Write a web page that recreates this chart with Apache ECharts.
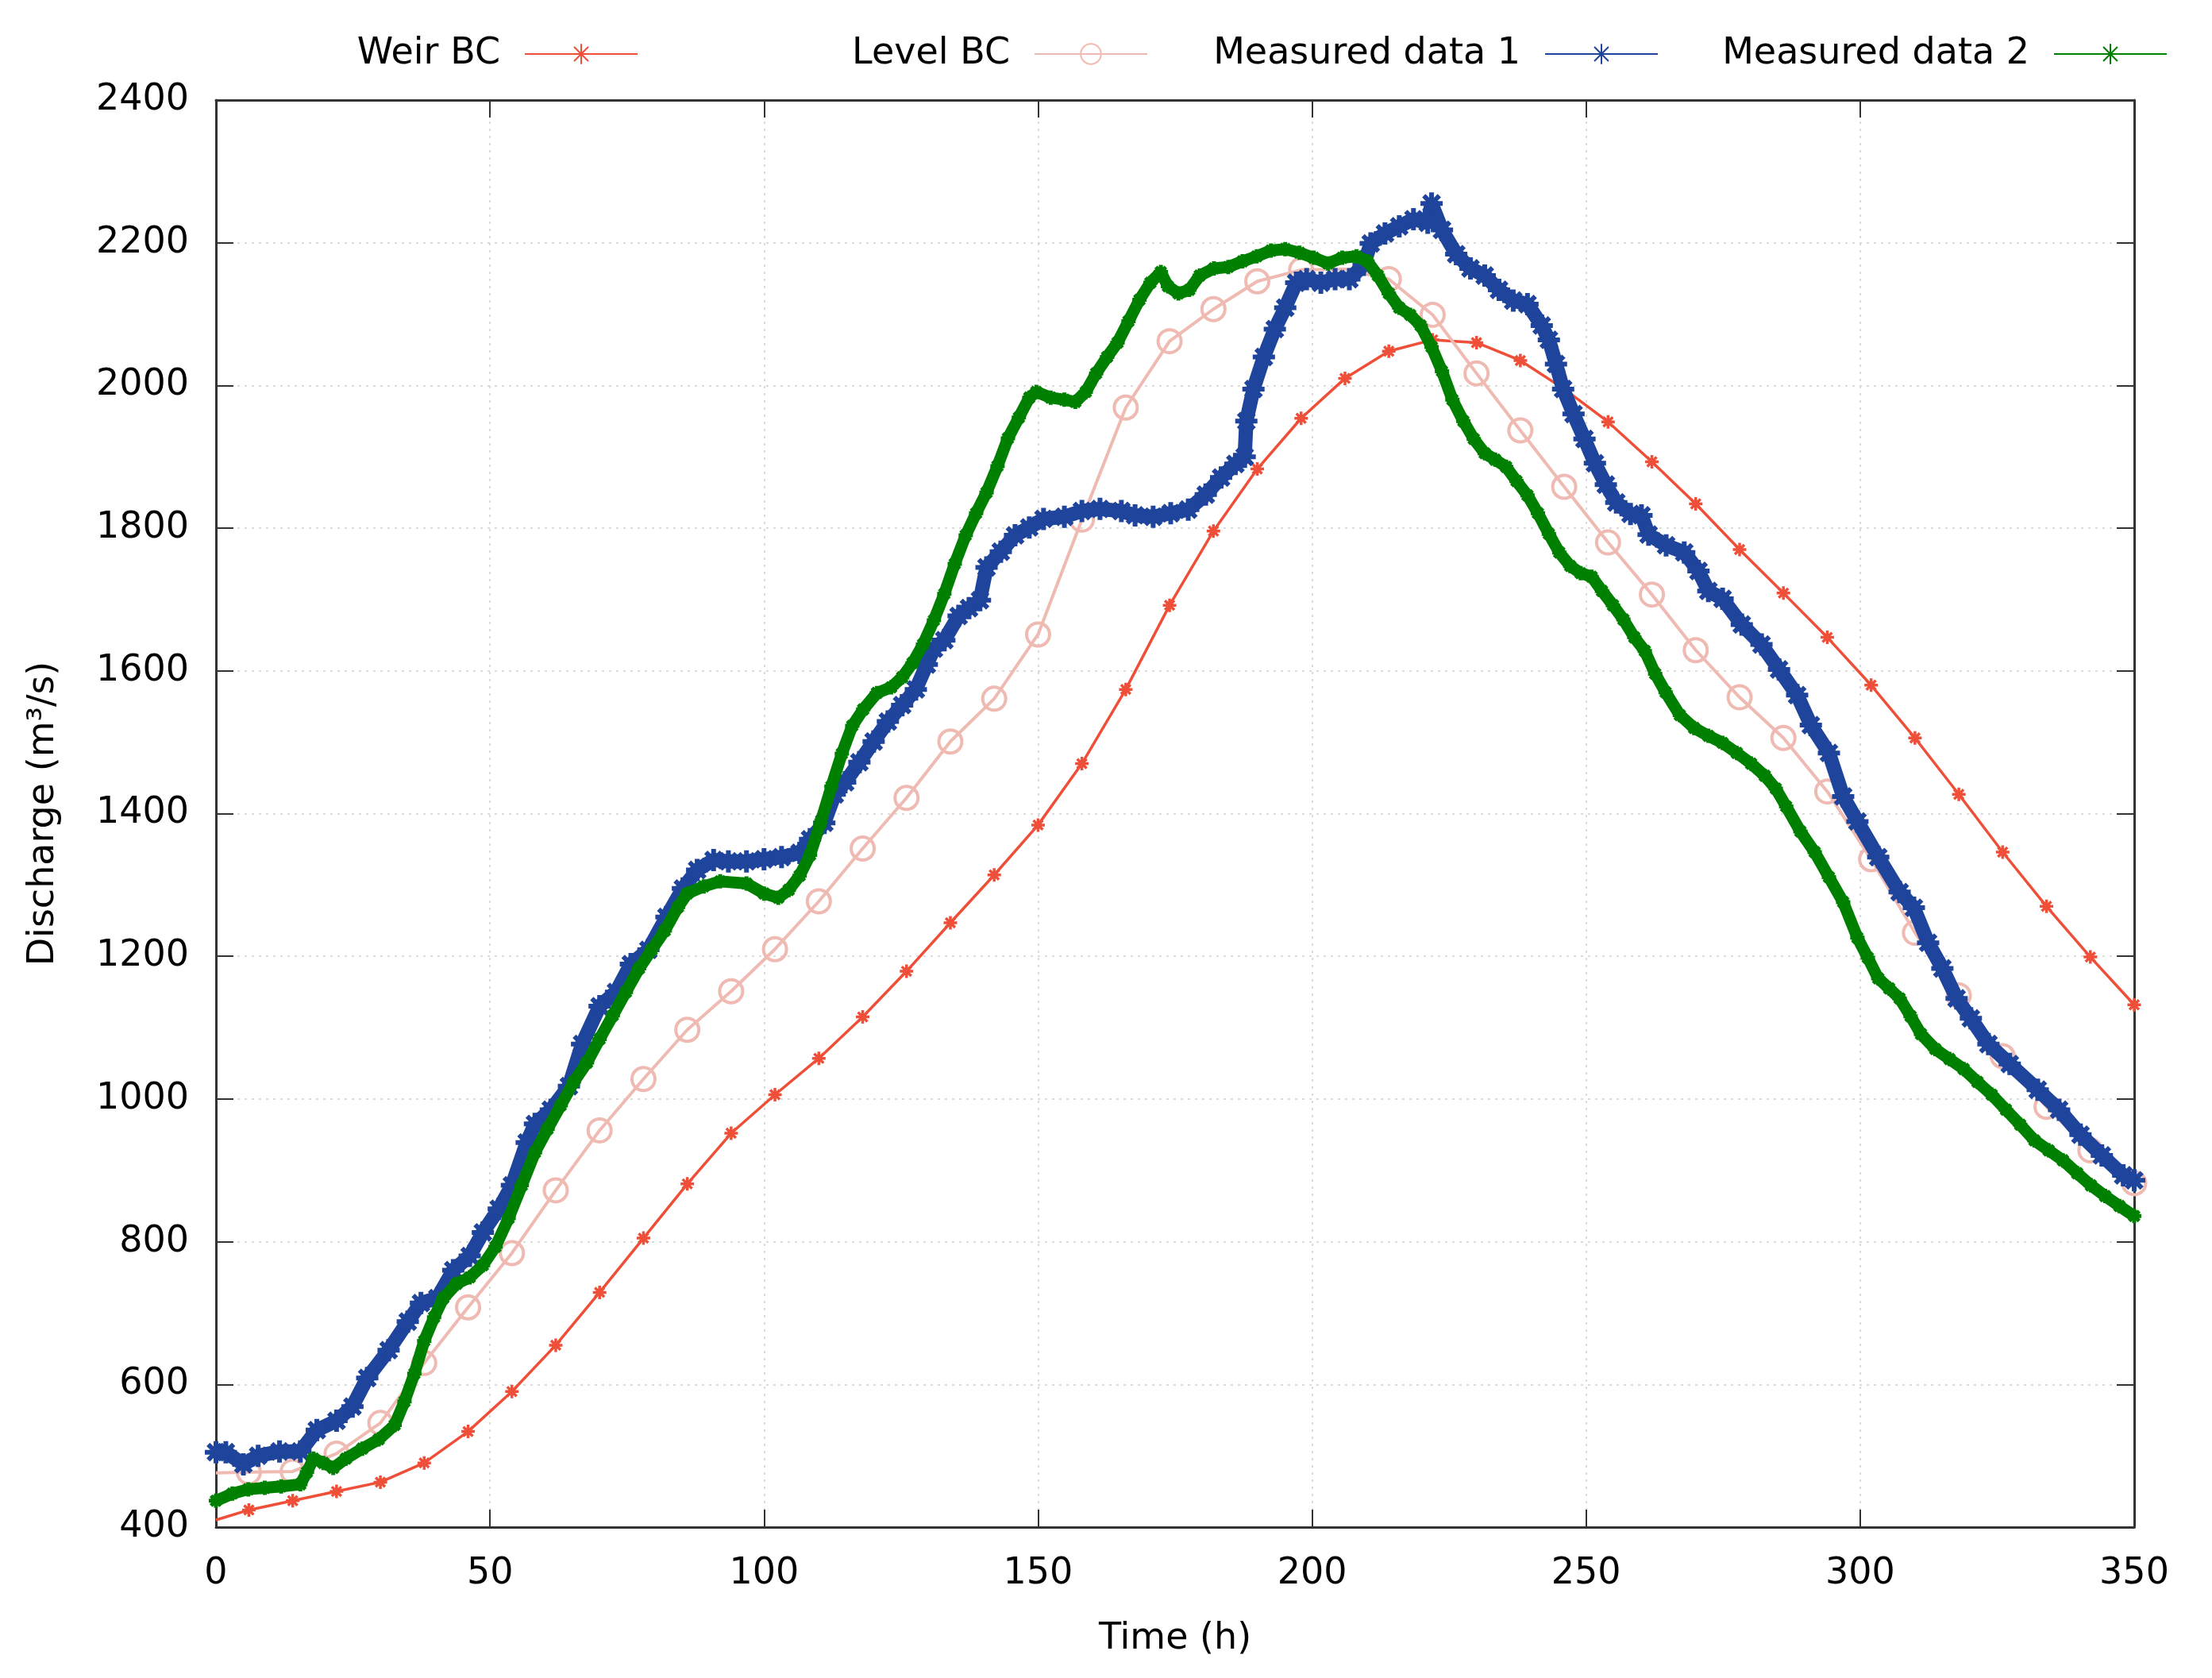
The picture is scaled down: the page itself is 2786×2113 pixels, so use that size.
<!DOCTYPE html>
<html>
<head>
<meta charset="utf-8">
<script src="https://cdn.jsdelivr.net/npm/echarts@6/dist/echarts.min.js"></script>
<style>
html,body{margin:0;padding:0;background:#fff;}
#chart{width:2786px;height:2113px;}
</style>
</head>
<body>
<div id="chart"></div>
<script>
// ---------- data ----------
const xTicks = [0, 50, 100, 150, 200, 250, 300, 350];
const yTicks = [400, 600, 800, 1000, 1200, 1400, 1600, 1800, 2000, 2200, 2400];

const bcTime = [0, 6, 14, 22, 30, 38, 46, 54, 62, 70, 78, 86, 94, 102, 110, 118, 126, 134, 142, 150,
  158, 166, 174, 182, 190, 198, 206, 214, 222, 230, 238, 246, 254, 262, 270, 278, 286, 294, 302,
  310, 318, 326, 334, 342, 350];

const weirQ = [410, 424, 437, 450, 463, 490, 534, 590, 655, 729, 805, 881, 952, 1006, 1057, 1115,
  1179, 1247, 1314, 1384, 1470, 1574, 1692, 1796, 1883, 1954, 2010, 2048, 2064, 2060, 2035, 1995,
  1949, 1893, 1834, 1770, 1709, 1647, 1580, 1506, 1427, 1346, 1270, 1199, 1132];

const levelQ = [476, 477, 478, 503, 546, 630, 708, 784, 872, 956, 1028, 1097, 1151, 1210, 1277, 1351,
  1422, 1501, 1561, 1651, 1812, 1969, 2062, 2107, 2146, 2162, 2163, 2149, 2099, 2017, 1937, 1858,
  1780, 1707, 1629, 1563, 1506, 1431, 1336, 1233, 1145, 1060, 989, 928, 882];

const m1Time = [0, 1.8, 5, 7.7, 11.6, 15.4, 18.4, 22, 24.9, 27.6, 31.5, 35, 37.4, 40.4, 43.3, 46.3,
  48.7, 51.6, 54, 56.7, 58.2, 61.1, 64.4, 66.8, 70, 73, 75.7, 78.9, 82.2, 85.2, 87.8, 90.8, 93.5,
  96.8, 100, 103.2, 106.5, 108.4, 111, 112.9, 114.8, 117.4, 120, 122.6, 125.2, 127.7, 129.7, 131,
  132.9, 135.5, 137.4, 139.4, 140.6, 143.2, 145.8, 148.4, 151, 154.8, 158, 161.3, 165.2, 167.7, 171,
  174.2, 177.4, 180.6, 183.4, 186, 187.7, 188, 189.3, 191.2, 193.2, 195.1, 197.1, 199, 201.6, 204.2,
  206.8, 209.4, 210.7, 213.3, 215.9, 218.5, 221.1, 221.8, 223.7, 226.3, 228.9, 231.5, 234.1, 236.7,
  239.3, 241.9, 243.2, 244.5, 245.8, 247.7, 249.7, 251.6, 253.6, 255.5, 258.1, 260.1, 261.4, 264.6,
  267.9, 270.5, 272.3, 274.9, 278.4, 282, 285.2, 288.5, 291, 294.3, 296.9, 299.5, 303.3, 307.2,
  309.8, 312.4, 315, 317.6, 320.2, 323.4, 327.3, 332.4, 336.3, 340.2, 344.1, 348, 350];

const m1Q = [505, 505, 488, 500, 506, 506, 536, 549, 569, 609, 648, 688, 714, 721, 760, 780,
  813, 846, 879, 939, 965, 985, 1018, 1077, 1130, 1150, 1189, 1209, 1255, 1295, 1321, 1335, 1333,
  1333, 1336, 1339, 1345, 1364, 1387, 1427, 1444, 1472, 1501, 1529, 1552, 1574, 1609, 1631,
  1643, 1677, 1688, 1699, 1745, 1767, 1790, 1801, 1813, 1816, 1824, 1827, 1824, 1818, 1816,
  1821, 1826, 1847, 1871, 1890, 1900, 1950, 1995, 2040, 2079, 2109, 2144, 2149, 2144, 2149,
  2149, 2169, 2199, 2213, 2223, 2233, 2228, 2255, 2218, 2184, 2164, 2154, 2134, 2119,
  2114, 2084, 2064, 2030, 1995, 1960, 1925, 1891, 1861, 1836, 1820, 1818, 1791, 1776,
  1766, 1740, 1712, 1701, 1665, 1637, 1602, 1566, 1524, 1485, 1424, 1389, 1339, 1290,
  1268, 1219, 1183, 1141, 1113, 1077, 1049, 1013, 985, 950, 921, 893, 886];

const m2Time = [0, 3, 5.9, 8.9, 11.9, 15.4, 16.6, 17.8, 19.6, 21.4, 23.7, 26.7, 29.7, 32.6, 34.4,
  36.2, 38, 39.8, 41.5, 43.9, 46.3, 48.7, 51, 53.4, 55.8, 58.2, 60.5, 62.9, 65.3, 67.7, 70, 72.4,
  74.8, 77.2, 79.5, 81.9, 84.3, 86, 89, 92, 96.8, 100, 102.6, 104.5, 106.5, 108.4, 110.3, 112.3,
  114.2, 116.1, 118.1, 120.6, 123.2, 125.2, 127.1, 129, 131, 132.9, 134.8, 136.8, 138.7, 140.6,
  142.6, 144.5, 146.5, 148.4, 149.7, 152.3, 154.8, 156.8, 158.7, 160.6, 162.6, 164.5, 166.5, 168.5,
  170.5, 172.4, 173.7, 175.6, 177.6, 179.5, 182.1, 184.7, 187.3, 189.9, 192.5, 195.1, 197.7, 200.3,
  202.9, 205.5, 208.1, 210.1, 212, 214, 215.9, 217.9, 219.8, 221.8, 223.7, 225.6, 227.6, 229.5,
  231.5, 233.4, 235.4, 237.3, 239.3, 241.2, 243.2, 245.1, 247.1, 249, 251, 252.9, 254.9, 256.8,
  258.8, 260.7, 262.6, 264.5, 267.1, 269.7, 272.3, 274.9, 277.5, 280.1, 282.6, 284.6, 286.5,
  289.1, 291.7, 294.3, 296.9, 299.5, 301.4, 303.3, 305.3, 307.2, 309.2, 311.1, 313.7, 316.3,
  318.9, 321.4, 324, 326.6, 329.2, 331.8, 334.4, 337, 339.6, 342.1, 344.7, 347.3, 350];

const m2Q = [437, 447, 453, 455, 457, 460, 477, 496, 490, 483, 496, 510, 523, 543, 576,
  615, 661, 694, 721, 741, 750, 767, 793, 833, 879, 925, 958, 991, 1024, 1051, 1084, 1117,
  1150, 1183, 1209, 1236, 1269, 1288, 1298, 1305, 1302, 1288, 1282, 1293, 1313, 1342, 1387, 1438,
  1484, 1523, 1546, 1569, 1577, 1591, 1611, 1637, 1671, 1708, 1750, 1790, 1821, 1850,
  1887, 1926, 1955, 1983, 1991, 1983, 1980, 1977, 1991, 2017, 2040, 2060, 2090, 2120,
  2144, 2159, 2139, 2129, 2134, 2154, 2164, 2166, 2174, 2181, 2189, 2191, 2186, 2179,
  2171, 2179, 2181, 2174, 2154, 2129, 2109, 2099, 2084, 2054, 2020, 1980, 1950, 1925,
  1905, 1896, 1886, 1866, 1846, 1821, 1792, 1766, 1747, 1737, 1732, 1712, 1692, 1672,
  1647, 1628, 1596, 1570, 1538, 1520, 1509, 1499, 1485, 1470, 1453, 1435, 1410,
  1375, 1346, 1311, 1276, 1226, 1198, 1169, 1155, 1141, 1116, 1091, 1070, 1056,
  1042, 1024, 1006, 985, 964, 942, 928, 914, 896, 879, 864, 850, 836];

const seriesNames = ['Weir BC', 'Level BC', 'Measured data 1', 'Measured data 2'];

// ---------- build ----------
const FONT = 'DejaVu Sans';
const STAR = 'path://M0,5L10,5M5,0L5,10M1.5,1.5L8.5,8.5M8.5,1.5L1.5,8.5';
const colors = ['#ef4f38', '#efbab2', '#1f449c', '#008000'];

function pairs(t, q) { return t.map((x, i) => [x, q[i]]); }
function bcPairs(q) {
  return bcTime.map((x, i) => i === 0 ? {value: [x, q[i]], symbol: 'none'} : [x, q[i]]);
}

const legendRight = [1977, 1335, 692, 51];
const legends = seriesNames.map((n, i) => ({
  data: [n],
  orient: 'horizontal',
  right: legendRight[i],
  top: 40,
  align: 'right',
  itemWidth: 142,
  itemHeight: 32,
  selectedMode: false,
  textStyle: {fontFamily: FONT, fontSize: 46, color: '#000', padding: [0, 26, 0, 0]}
}));

const axisLineStyle = {color: '#333', width: 3};
const tickStyle = {color: '#333', width: 2};

const option = {
  animation: false,
  backgroundColor: '#fff',
  legend: legends,
  grid: {left: 272, right: 98, top: 126, bottom: 190, containLabel: false},
  xAxis: [{
    type: 'value', position: 'bottom', min: 0, max: 350, interval: 50,
    name: 'Time (h)', nameLocation: 'middle', nameGap: 118,
    nameTextStyle: {fontFamily: FONT, fontSize: 46, color: '#000'},
    axisLine: {show: true, lineStyle: axisLineStyle},
    axisTick: {show: true, inside: true, length: 22, lineStyle: tickStyle},
    axisLabel: {fontFamily: FONT, fontSize: 46, color: '#000', margin: 36,
      formatter: v => xTicks.includes(v) ? String(v) : ''},
    splitLine: {show: true, lineStyle: {type: [3, 6], color: '#d0d0d0', width: 1.5}}
  }, {
    type: 'value', position: 'top', min: 0, max: 350, interval: 50,
    axisLine: {show: true, onZero: false, lineStyle: axisLineStyle},
    axisTick: {show: true, inside: true, length: 22, lineStyle: tickStyle},
    axisLabel: {show: false}, splitLine: {show: false}
  }],
  yAxis: [{
    type: 'value', position: 'left', min: 400, max: 2400, interval: 200,
    name: 'Discharge (m\u00B3/s)', nameLocation: 'middle', nameGap: 194, nameRotate: 90,
    nameTextStyle: {fontFamily: FONT, fontSize: 46, color: '#000'},
    axisLine: {show: true, lineStyle: axisLineStyle},
    axisTick: {show: true, inside: true, length: 22, lineStyle: tickStyle},
    axisLabel: {fontFamily: FONT, fontSize: 46, color: '#000', margin: 34,
      formatter: v => yTicks.includes(v) ? String(v) : ''},
    splitLine: {show: true, lineStyle: {type: [3, 6], color: '#d0d0d0', width: 1.5}}
  }, {
    type: 'value', position: 'right', min: 400, max: 2400, interval: 200,
    axisLine: {show: true, onZero: false, lineStyle: axisLineStyle},
    axisTick: {show: true, inside: true, length: 22, lineStyle: tickStyle},
    axisLabel: {show: false}, splitLine: {show: false}
  }],
  series: [{
    name: seriesNames[0], type: 'line', xAxisIndex: 0, yAxisIndex: 0,
    data: bcPairs(weirQ), symbol: STAR, symbolSize: 17, showAllSymbol: true,
    lineStyle: {color: colors[0], width: 3.5},
    itemStyle: {color: colors[0], borderColor: colors[0], borderWidth: 3.5},
    z: 2
  }, {
    name: seriesNames[1], type: 'line', xAxisIndex: 0, yAxisIndex: 0,
    data: bcPairs(levelQ), symbol: 'circle', symbolSize: 29, showAllSymbol: true,
    lineStyle: {color: colors[1], width: 4},
    itemStyle: {color: 'rgba(255,255,255,0)', borderColor: colors[1], borderWidth: 4},
    z: 3
  }, {
    name: seriesNames[2], type: 'line', xAxisIndex: 0, yAxisIndex: 0,
    data: pairs(m1Time, m1Q), symbol: STAR, symbolSize: 28, showAllSymbol: true,
    lineStyle: {color: colors[2], width: 18},
    itemStyle: {color: colors[2], borderColor: colors[2], borderWidth: 6},
    z: 4
  }, {
    name: seriesNames[3], type: 'line', xAxisIndex: 0, yAxisIndex: 0,
    data: pairs(m2Time, m2Q), symbol: STAR, symbolSize: 18, showAllSymbol: true,
    lineStyle: {color: colors[3], width: 15},
    itemStyle: {color: colors[3], borderColor: colors[3], borderWidth: 5},
    z: 5
  }]
};

const chart = echarts.init(document.getElementById('chart'), null, {renderer: 'canvas'});
chart.setOption(option);
</script>
</body>
</html>
